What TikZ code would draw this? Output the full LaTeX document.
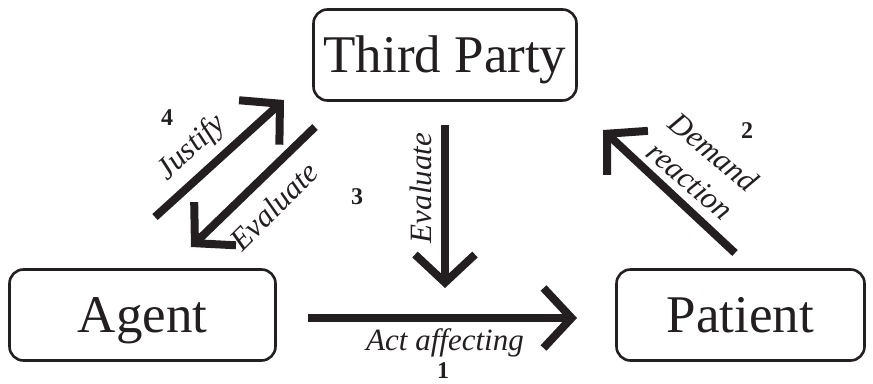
\documentclass[tikz,border=0pt]{standalone}
\usepackage{fontspec}
\setmainfont{Liberation Serif}
\usetikzlibrary{arrows.meta}
\definecolor{ink}{HTML}{231F20}
\begin{document}
\begin{tikzpicture}[x=1pt,y=-1pt,
  box/.style={draw=ink, text=ink, line width=2.6pt, rounded corners=14pt, inner sep=0pt,
    text height=35pt, text depth=0pt, minimum height=91pt,
    font=\fontsize{53}{60}\selectfont},
  conn/.style={draw=ink, line width=8pt, -{Straight Barb[length=28pt,width=60pt,sharp]}},
  lbl/.style={text=ink, inner sep=0pt, font=\fontsize{31}{34}\selectfont\itshape},
  num/.style={text=ink, inner sep=0pt, font=\fontsize{24}{28}\selectfont\bfseries}]
\useasboundingbox (0,0) rectangle (873,383);
% boxes
\node[box, minimum width=263pt] (tp) at (445,55) {Third Party};
\node[box, minimum width=266pt] (ag) at (142.5,315) {Agent};
\node[box, minimum width=248pt] (pt) at (740.5,315) {Patient};
% arrow end points
\coordinate (a1s) at (308,318);
\coordinate (a1e) at (577,318);
\coordinate (a3s) at (445,125);
\coordinate (a3e) at (445,288);
\coordinate (a4s) at (155,217);
\coordinate (a4e) at (284,100);
\coordinate (aes) at (315,127);
\coordinate (aee) at (191,247);
\coordinate (a2s) at (735,253);
\coordinate (a2e) at (603,130);
% connectors
\draw[conn] (a1s) -- (a1e);
\draw[conn] (a3s) -- (a3e);
\draw[conn] (a4s) -- (a4e);
\draw[conn] (aes) -- (aee);
\draw[conn] (a2s) -- (a2e);
% labels
\node[lbl] (l1) at (445,343) {Act affecting};
\node[num] (n1) at (443,371) {1};
\node[lbl, rotate=90] (l3) at (421,188) {Evaluate};
\node[num] (n3) at (357,197) {3};
\node[lbl, rotate=43] (l4) at (192,148) {Justify};
\node[num] (n4) at (167,118) {4};
\node[lbl, rotate=45] (le) at (274,206) {Evaluate};
\node[lbl, rotate=-40] (ld) at (714,152) {Demand};
\node[lbl, rotate=-41] (lr) at (690,181) {reaction};
\node[num] (n2) at (747,131) {2};
\end{tikzpicture}
\end{document}
